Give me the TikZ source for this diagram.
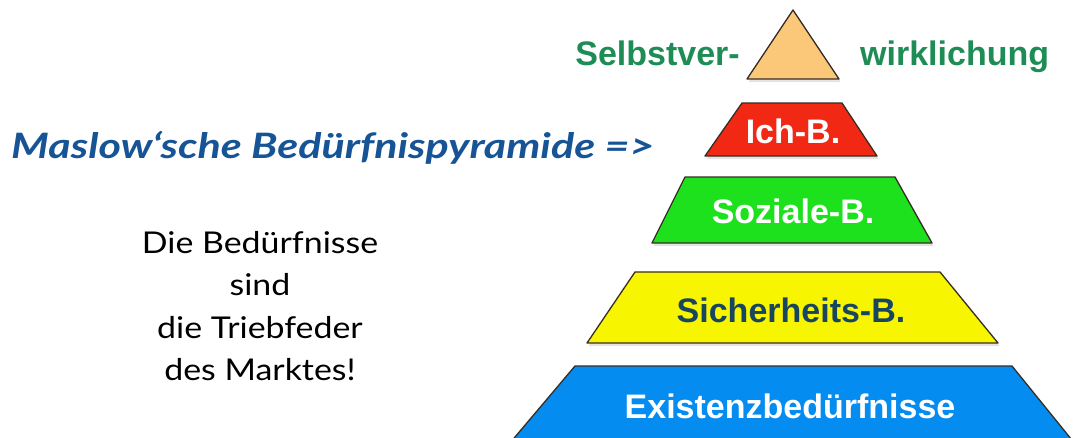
\documentclass[tikz,border=0pt]{standalone}
\usepackage{fontspec}
\setmainfont{Lato}
\newfontfamily\labelfont{Liberation Sans}
\newfontfamily\titlefont{Lato}
\usetikzlibrary{shadows}

\definecolor{topcol}{RGB}{250,200,120}
\definecolor{egocol}{RGB}{240,40,20}
\definecolor{soccol}{RGB}{30,225,30}
\definecolor{safecol}{RGB}{248,245,0}
\definecolor{basecol}{RGB}{5,140,240}
\definecolor{edgecol}{RGB}{55,45,35}
\definecolor{greentext}{RGB}{30,140,85}
\definecolor{safetext}{RGB}{25,70,95}
\definecolor{titleblue}{RGB}{22,84,150}

\tikzset{
  level/.style={draw=edgecol, line width=1.3pt, line join=round,
    drop shadow={opacity=0.22, shadow xshift=1.5pt, shadow yshift=-3pt}},
  levellabel/.style={font=\labelfont\bfseries\fontsize{34}{40}\selectfont,
    text=white, inner sep=0pt, anchor=base},
  sidelabel/.style={font=\labelfont\bfseries\fontsize{34}{40}\selectfont,
    text=greentext, inner sep=0pt},
  bodytext/.style={font=\fontsize{30}{42}\selectfont, align=center,
    inner sep=0pt, anchor=base},
}
\newcommand{\widebody}[1]{\scalebox{1.13}[1]{#1}}

\begin{document}
\begin{tikzpicture}[x=1pt, y=-1pt]
  \useasboundingbox (0,0) rectangle (1076,437);
  \clip (0,0) rectangle (1076,437);

  % pyramid levels, from the top down
  \path[level, fill=topcol]  (793,10) -- (839,79) -- (747,79) -- cycle;
  \path[level, fill=egocol]  (742,103) -- (842,103) -- (877,156) -- (705,156) -- cycle;
  \path[level, fill=soccol]  (685,177) -- (895,177) -- (932,243) -- (652,243) -- cycle;
  \path[level, fill=safecol] (635,272) -- (940,272) -- (998,343) -- (587,343) -- cycle;
  \path[level, fill=basecol] (575,366) -- (1012,366) -- (1080,450) -- (504,450) -- cycle;

  % labels of the levels
  \node[sidelabel, anchor=base east] (selbst) at (740,65) {Selbstver-};
  \node[sidelabel, anchor=base west] (wirk) at (860,65) {wirklichung};
  \node[levellabel] (ich) at (793,143) {Ich-B.};
  \node[levellabel] (sozial) at (793,223) {Soziale-B.};
  \node[levellabel, text=safetext] (sicher) at (791,322) {Sicherheits-B.};
  \node[levellabel] (existenz) at (790,418) {Existenzbedürfnisse};

  % heading and remark on the left
  \node[font=\titlefont\bfseries\itshape\fontsize{35}{40}\selectfont,
        text=titleblue, inner sep=0pt, anchor=base west] (title) at (11,158)
        {\scalebox{1.23}[1]{Maslow‘sche Bedürfnispyramide =>}};
  \node[bodytext] (l1) at (260,253) {\widebody{Die Bedürfnisse}};
  \node[bodytext] (l2) at (260,295) {\widebody{sind}};
  \node[bodytext] (l3) at (260,338) {\widebody{die Triebfeder}};
  \node[bodytext] (l4) at (260,380) {\widebody{des Marktes!}};
\end{tikzpicture}
\end{document}
